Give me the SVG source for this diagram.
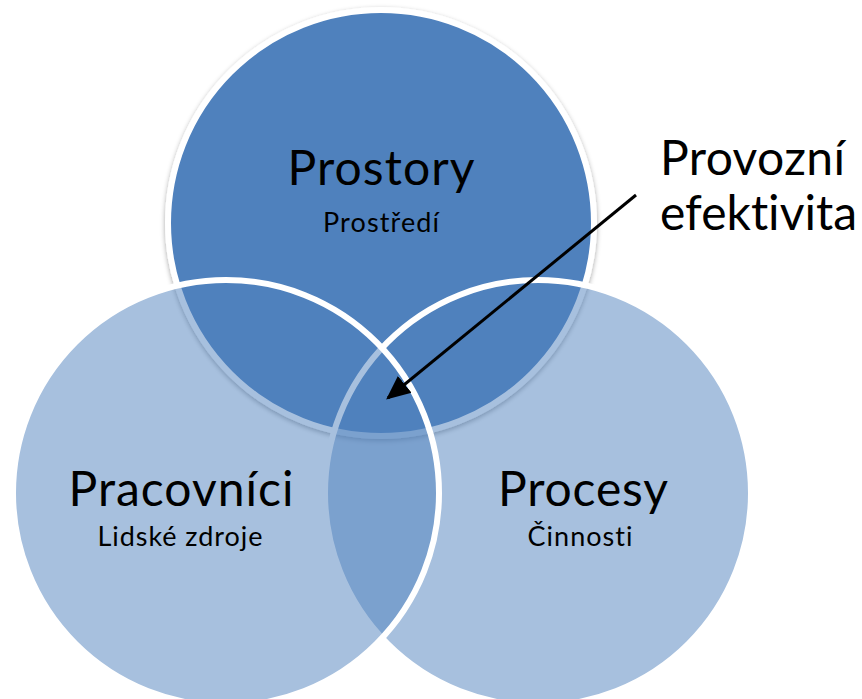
<svg xmlns="http://www.w3.org/2000/svg" width="862" height="699" viewBox="0 0 862 699">
  <defs>
    <filter id="soft-shadow" x="-10%" y="-10%" width="120%" height="120%">
      <feDropShadow dx="0" dy="2" stdDeviation="2.5" flood-color="#000" flood-opacity="0.35"/>
    </filter>
    <marker id="arrowhead" viewBox="0 0 10 10" refX="9" refY="5" markerWidth="8" markerHeight="8" markerUnits="strokeWidth" orient="auto">
      <path d="M0,0.5 L10,5 L0,9.5 z" fill="#000"/>
    </marker>
  </defs>
  <style>
    text { font-family: Lato, "Liberation Sans", sans-serif; fill: #000; font-variant-ligatures: none; font-feature-settings: "liga" 0, "dlig" 0; }
    .ring { stroke: #fff; stroke-width: 6; }
    .solid { fill: #4f81bd; }
    .tint { fill: #4f81bd; fill-opacity: 0.5; }
    .title { font-size: 48px; text-anchor: middle; }
    .sub { font-size: 27px; text-anchor: middle; }
    .note { font-size: 48px; }
    .connector { stroke: #000; stroke-width: 3; fill: none; }
  </style>

  <!-- Top set: drawn first, opaque, with a soft shadow -->
  <g id="prostory">
    <circle class="solid ring" cx="381" cy="223" r="213" filter="url(#soft-shadow)"/>
  </g>

  <!-- Right set: translucent -->
  <g id="procesy">
    <circle class="tint ring" cx="538" cy="493" r="213"/>
  </g>

  <!-- Left set: translucent -->
  <g id="pracovnici">
    <circle class="tint ring" cx="226" cy="493" r="213"/>
  </g>

  <!-- Labels -->
  <g id="prostory-label">
    <text class="title" x="381" y="185" textLength="187">Prostory</text>
    <text class="sub" x="381" y="232" textLength="116">Prostředí</text>
  </g>
  <g id="pracovnici-label">
    <text class="title" x="181" y="506" textLength="225">Pracovníci</text>
    <text class="sub" x="180" y="546" textLength="165">Lidské zdroje</text>
  </g>
  <g id="procesy-label">
    <text class="title" x="583" y="506" textLength="170">Procesy</text>
    <text class="sub" x="580" y="546" textLength="105">Činnosti</text>
  </g>
  <g id="provozni-efektivita">
    <text class="note" x="660" y="175" textLength="185">Provozní</text>
    <text class="note" x="660" y="230" textLength="197">efektivita</text>
  </g>

  <!-- Connectors -->
  <g id="connectors">
    <line class="connector" x1="636" y1="195" x2="388" y2="398" marker-end="url(#arrowhead)"/>
  </g>
</svg>
